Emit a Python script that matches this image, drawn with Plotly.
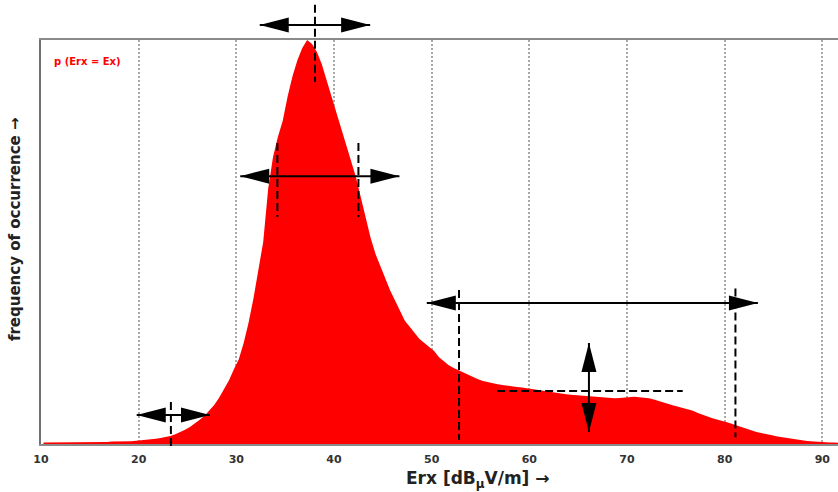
import plotly.graph_objects as go

# ---------------- data ----------------
bin_start = 10.0
bin_width = 0.5
# relative frequency per 0.5 dB bin (100 = peak)
freq = [
    0.4, 0.4, 0.4, 0.4, 0.4, 0.4, 0.4, 0.4, 0.5, 0.5, 0.5, 0.5, 0.5, 0.5, 0.6, 0.6, 0.6, 0.7, 0.7, 0.8,
    0.9, 1.0, 1.1, 1.3, 1.5, 1.7, 2.0, 2.4, 2.9, 3.5, 4.2, 5.0, 6.0, 7.0, 8.3, 9.7, 11.5, 13.5, 15.8, 18.5,
    21, 25, 30, 36, 43, 50, 63, 71, 76, 80, 86, 91, 95, 98, 100, 99, 97, 94, 90, 86,
    82, 78, 74, 70, 66, 61, 56, 51, 47, 44, 41, 38, 35.5, 33, 30.5, 29, 27.5, 26, 25, 24,
    23, 21.5, 20.5, 19.5, 18.8, 18.2, 17.6, 17.0, 16.5, 16, 15.6, 15.3, 15, 14.8, 14.6, 14.4, 14.2, 14.1, 14.0, 13.8,
    13.6, 13.4, 13.2, 13.0, 12.8, 12.6, 12.4, 12.3, 12.2, 12.1, 12.0, 11.9, 11.8, 11.6, 11.5, 11.4, 11.3, 11.3, 11.4, 11.5,
    11.6, 11.7, 11.6, 11.5, 11.3, 11.0, 10.6, 10.2, 9.8, 9.5, 9.2, 8.9, 8.6, 8.2, 7.7, 7.2, 6.8, 6.4, 6.0, 5.7,
    5.4, 5.0, 4.6, 4.2, 3.7, 3.3, 3.0, 2.7, 2.5, 2.2, 1.9, 1.7, 1.5, 1.3, 1.1, 0.9, 0.8, 0.7, 0.6, 0.5,
    0.5, 0.4, 0.4, 0.3,
]
x_ticks = [10, 20, 30, 40, 50, 60, 70, 80, 90]
x_title = "Erx [dB<sub>µ</sub>V/m] →"
y_title = "frequency of occurrence →"
legend_text = "p (Erx = Ex)"

# ---------------- layout geometry ----------------
W, H = 838, 492
M_L, M_R, M_T, M_B = 41, 0, 40, 48
X_MIN, X_MAX = 10, 91.6
PLOT_W = W - M_L - M_R
PLOT_H = H - M_T - M_B
PX_PER_X = PLOT_W / (X_MAX - X_MIN)

x_centers = [bin_start + (i + 0.5) * bin_width for i in range(len(freq))]

fig = go.Figure()
fig.add_trace(go.Scatter(
    x=x_centers, y=freq, mode="lines", line=dict(shape="linear", width=0, color="#ff0000"),
    fill="tozeroy", fillcolor="#ff0000", hoverinfo="skip", showlegend=False,
))

shapes = []
HEAD_LEN = 29
HEAD_HALF = 7.5
LINE_W = 2
DASH = "8px,4px"


def hline_arrow(x0, x1, y):
    L = HEAD_LEN / PX_PER_X
    h = HEAD_HALF / PLOT_H
    shapes.append(dict(type="line", xref="x", yref="paper", x0=x0, x1=x1, y0=y, y1=y,
                       line=dict(color="black", width=LINE_W)))
    for tip, d in ((x0, -1), (x1, 1)):
        b = tip - d * L
        shapes.append(dict(type="path", xref="x", yref="paper",
                           path=f"M{tip},{y} L{b},{y + h} L{b},{y - h} Z",
                           fillcolor="black", line=dict(width=0)))


def vline_arrow(x, y0, y1):
    L = HEAD_LEN / PLOT_H
    w = HEAD_HALF / PX_PER_X
    shapes.append(dict(type="line", xref="x", yref="paper", x0=x, x1=x, y0=y0, y1=y1,
                       line=dict(color="black", width=LINE_W)))
    for tip, d in ((y0, -1), (y1, 1)):
        b = tip - d * L
        shapes.append(dict(type="path", xref="x", yref="paper",
                           path=f"M{x},{tip} L{x - w},{b} L{x + w},{b} Z",
                           fillcolor="black", line=dict(width=0)))


def dashed(x0, x1, y0, y1):
    shapes.append(dict(type="line", xref="x", yref="paper", x0=x0, x1=x1, y0=y0, y1=y1,
                       line=dict(color="black", width=LINE_W, dash=DASH)))


# annotation marks (x in dB, y in fraction of plot height)
dashed(38.05, 38.05, 1.087, 0.896)
hline_arrow(32.4, 43.7, 1.037)

dashed(34.2, 34.2, 0.745, 0.562)
dashed(42.5, 42.5, 0.745, 0.562)
hline_arrow(30.4, 46.7, 0.663)

dashed(23.3, 23.3, 0.104, -0.008)
hline_arrow(19.8, 27.3, 0.072)

dashed(52.8, 52.8, 0.381, 0.010)
dashed(81.1, 81.1, 0.385, 0.017)
hline_arrow(49.5, 83.4, 0.349)

dashed(56.7, 75.7, 0.131, 0.131)
vline_arrow(66.1, 0.030, 0.250)

font_family = "DejaVu Sans, Verdana, sans-serif"
annotations = [
    dict(text=legend_text, xref="x", yref="paper", x=14.76, y=0.946, showarrow=False,
         xanchor="center", yanchor="middle",
         font=dict(family=font_family, size=10, color="#ff0000", weight="bold")),
    dict(text=x_title, xref="x", yref="paper", x=54.7, y=-0.088, showarrow=False,
         xanchor="center", yanchor="middle",
         font=dict(family=font_family, size=17, color="#222", weight="bold")),
    dict(text=y_title, xref="paper", yref="paper", x=-0.0326, y=0.532, showarrow=False,
         xanchor="center", yanchor="middle", textangle=-90,
         font=dict(family=font_family, size=15, color="#222", weight="bold")),
]

fig.update_layout(
    width=W, height=H, margin=dict(l=M_L, r=M_R, t=M_T, b=M_B, pad=0),
    paper_bgcolor="white", plot_bgcolor="white",
    shapes=shapes, annotations=annotations, showlegend=False,
    xaxis=dict(range=[X_MIN, X_MAX], tickvals=x_ticks, showgrid=True, gridcolor="#a8a8a8",
               gridwidth=1.5, griddash="2px,2px", zeroline=False, showline=True, linecolor="#8a8a8a",
               linewidth=1.5, mirror=True, ticks="", ticklabelstandoff=4,
               tickfont=dict(family=font_family, size=11, color="#333", weight="bold")),
    yaxis=dict(range=[0, 100], showgrid=False, zeroline=False, showticklabels=False,
               showline=True, linecolor="#707070", linewidth=1.5, ticks=""),
)

fig.write_html("out.html")
